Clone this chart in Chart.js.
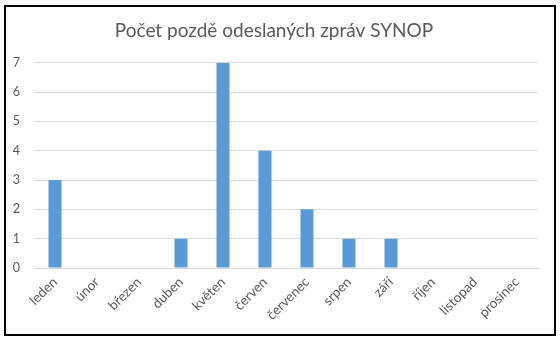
<!DOCTYPE html>
<html>
<head>
<meta charset="utf-8">
<script src="https://cdn.jsdelivr.net/npm/chart.js@4"></script>
<style>
  html, body { margin: 0; padding: 0; background: #fff; }
  #wrap { position: relative; width: 560px; height: 342px; }
  #frame { position: absolute; left: 4px; top: 5px; width: 548px; height: 327px; border: 2px solid #000; pointer-events: none; }
</style>
</head>
<body>
<div id="wrap">
  <canvas id="c" width="560" height="342"></canvas>
  <div id="frame"></div>
</div>
<script>
const months = ['leden', 'únor', 'březen', 'duben', 'květen', 'červen', 'červenec', 'srpen', 'září', 'říjen', 'listopad', 'prosinec'];
const lateReports = [3, 0, 0, 1, 7, 4, 2, 1, 1, 0, 0, 0];
const chartTitle = 'Počet pozdě odeslaných zpráv SYNOP';

const textColor = '#595959';
const gridColor = '#d9d9d9';
const fontFamily = 'Lato, Carlito, Calibri, "Open Sans", sans-serif';

new Chart(document.getElementById('c'), {
  type: 'bar',
  data: {
    labels: months,
    datasets: [{
      data: lateReports,
      backgroundColor: '#5b9bd5',
      borderWidth: 0,
      categoryPercentage: 1.0,
      barPercentage: 0.31
    }]
  },
  options: {
    responsive: false,
    animation: false,
    devicePixelRatio: 1,
    layout: { padding: { left: 10, right: 22, top: 19, bottom: 10 } },
    plugins: {
      legend: { display: false },
      tooltip: { enabled: false },
      title: {
        display: true,
        text: chartTitle,
        color: textColor,
        font: { family: fontFamily, size: 19, weight: 'normal' },
        padding: { top: 0, bottom: 21 }
      }
    },
    scales: {
      x: {
        grid: { display: false, drawTicks: false },
        border: { color: gridColor },
        afterFit: (scale) => { scale.height = 64; },
        ticks: {
          color: textColor,
          font: { family: fontFamily, size: 13.5 },
          maxRotation: 45,
          minRotation: 45,
          padding: 6,
          autoSkip: false
        }
      },
      y: {
        min: 0,
        max: 7,
        grid: { color: gridColor, drawTicks: false },
        border: { display: false },
        afterFit: (scale) => { scale.width = 24; },
        ticks: {
          stepSize: 1,
          color: textColor,
          font: { family: fontFamily, size: 12.5 },
          padding: 14
        }
      }
    }
  }
});
</script>
</body>
</html>
